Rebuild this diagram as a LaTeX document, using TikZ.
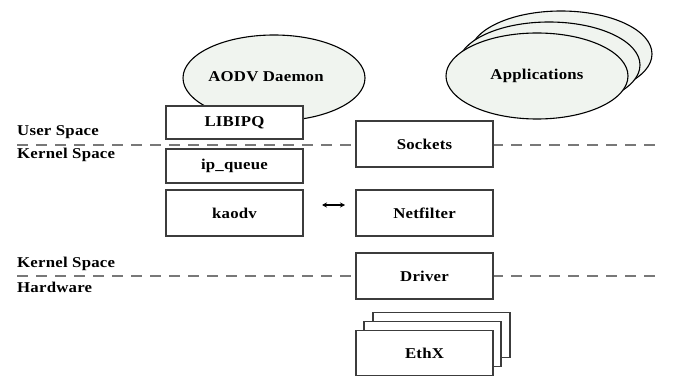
\documentclass[tikz,border=0pt]{standalone}
\usepackage{fontspec}
\setmainfont{Liberation Serif}
\newfontfamily\lblfont[FakeStretch=1.12,LetterSpace=1.5]{Liberation Serif}
\usetikzlibrary{shapes.geometric,arrows.meta}
\definecolor{ellfill}{RGB}{240,244,239}
\definecolor{boxline}{RGB}{60,60,60}
\definecolor{dashcol}{RGB}{120,120,120}
\tikzset{
  lbl/.style={font=\lblfont\fontsize{15}{17}\selectfont\bfseries, inner sep=0pt},
  layerbox/.style={draw=boxline, line width=1.4pt, fill=white, minimum width=137pt, inner sep=0pt, font=\lblfont\fontsize{15}{17}\selectfont\bfseries},
  bubble/.style={draw=black, line width=1.1pt, fill=ellfill, ellipse, inner sep=0pt, font=\lblfont\fontsize{15}{17}\selectfont\bfseries},
  divider/.style={draw=dashcol, line width=2pt, dash pattern=on 11pt off 8pt},
}
\begin{document}
\begin{tikzpicture}[x=1pt,y=-1pt]
\useasboundingbox (0,0) rectangle (675,377);
% dashed dividers
\coordinate (d1a) at (17,145);
\coordinate (d1b) at (660,145);
\coordinate (d2a) at (17,276);
\coordinate (d2b) at (660,276);
\draw[divider] (d1a) -- (d1b);
\draw[divider] (d2a) -- (d2b);
% ellipses
\node[bubble, minimum width=182pt, minimum height=86pt] (app3) at (561,54) {};
\node[bubble, minimum width=182pt, minimum height=86pt] (app2) at (549,65) {};
\node[bubble, minimum width=182pt, minimum height=86pt] (app) at (537,76) {Applications};
\node[bubble, minimum width=182pt, minimum height=86pt] (aodv) at (274,78) {};
\node[lbl] (aodvt) at (266,77) {AODV Daemon};
% left boxes
\node[layerbox, minimum height=33pt] (libipq) at (234.5,122.5) {LIBIPQ};
\node[layerbox, minimum height=34pt] (ipq) at (234.5,166) {ip\_queue};
\node[layerbox, minimum height=46pt] (kaodv) at (234.5,213) {kaodv};
% right boxes
\node[layerbox, minimum height=46pt] (sockets) at (424.5,144) {Sockets};
\node[layerbox, minimum height=46pt] (netfilter) at (424.5,213) {Netfilter};
\node[layerbox, minimum height=46pt] (driver) at (424.5,276) {Driver};
\node[layerbox, minimum height=45pt] (eth3) at (441.5,335) {};
\node[layerbox, minimum height=45pt] (eth2) at (432.5,344) {};
\node[layerbox, minimum height=45pt] (eth) at (424.5,353) {EthX};
% arrow
\coordinate (arl) at (322,205);
\coordinate (arr) at (345,205);
\draw[{Stealth[length=5pt,width=5pt]}-{Stealth[length=5pt,width=5pt]}, line width=1.2pt] (arl) -- (arr);
% labels
\node[lbl, anchor=west] (us) at (17,132) {User Space};
\node[lbl, anchor=west] (ks1) at (17,155) {Kernel Space};
\node[lbl, anchor=west] (ks2) at (17,264) {Kernel Space};
\node[lbl, anchor=west] (hw) at (17,287) {Hardware};
\end{tikzpicture}
\end{document}
